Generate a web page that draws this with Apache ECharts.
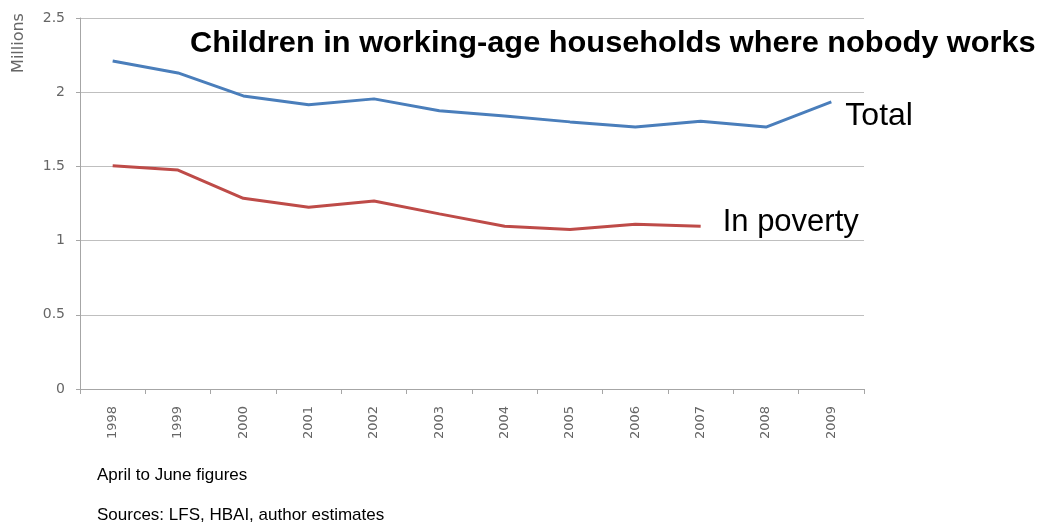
<!DOCTYPE html>
<html>
<head>
<meta charset="utf-8">
<script src="https://cdn.jsdelivr.net/npm/echarts@6/dist/echarts.min.js"></script>
<style>
  html, body { margin: 0; padding: 0; background: #fff; }
  #chart { width: 1041px; height: 525px; }
</style>
</head>
<body>
<div id="chart"></div>
<script>
const years = ['1998', '1999', '2000', '2001', '2002', '2003', '2004', '2005', '2006', '2007', '2008', '2009'];
const total = [2.21, 2.13, 1.975, 1.915, 1.955, 1.875, 1.84, 1.80, 1.765, 1.805, 1.765, 1.935];
const poverty = [1.505, 1.475, 1.285, 1.225, 1.267, 1.18, 1.097, 1.075, 1.11, 1.097, null, null];

const chart = echarts.init(document.getElementById('chart'));
chart.setOption({
  animation: false,
  grid: { left: 80, right: 177, top: 18, bottom: 136 },
  graphic: [
    { type: 'text', x: 190, y: 29, scaleX: 1.025, style: { text: 'Children in working-age households where nobody works', font: 'bold 30px "Liberation Sans", Arial, sans-serif', fill: '#000' } },
    { type: 'text', x: 19, y: 43, rotation: Math.PI / 2, style: { text: 'Millions', font: '16px "DejaVu Sans", sans-serif', fill: '#666', align: 'center', verticalAlign: 'middle' } },
    { type: 'text', left: 97, top: 467, style: { text: 'April to June figures', font: '17px "Liberation Sans", Arial, sans-serif', fill: '#000' } },
    { type: 'text', left: 97, top: 507, style: { text: 'Sources: LFS, HBAI, author estimates', font: '17px "Liberation Sans", Arial, sans-serif', fill: '#000' } }
  ],
  xAxis: {
    type: 'category',
    data: years,
    boundaryGap: true,
    axisLine: { lineStyle: { color: '#a6a6a6' } },
    axisTick: { show: true, length: 5, lineStyle: { color: '#a6a6a6' } },
    axisLabel: { rotate: 90, color: '#666', fontSize: 13, fontFamily: 'DejaVu Sans', margin: 17 }
  },
  yAxis: {
    type: 'value',
    min: 0, max: 2.5, interval: 0.5,
    axisLine: { show: true, lineStyle: { color: '#a6a6a6' } },
    axisTick: { show: true, length: 4, lineStyle: { color: '#a6a6a6' } },
    axisLabel: { color: '#666', fontSize: 14, fontFamily: 'DejaVu Sans', margin: 15 },
    splitLine: { lineStyle: { color: '#bfbfbf' } }
  },
  series: [
    {
      name: 'Total', type: 'line', data: total, symbol: 'none',
      lineStyle: { color: '#4a7ebb', width: 3 },
      endLabel: { show: true, formatter: 'Total', color: '#000', fontSize: 32, fontFamily: '"Liberation Sans", Arial, sans-serif', distance: 14, offset: [0, 14] }
    },
    {
      name: 'In poverty', type: 'line', data: poverty, symbol: 'none',
      lineStyle: { color: '#be4b48', width: 3 },
      endLabel: { show: true, formatter: 'In poverty', color: '#000', fontSize: 31, fontFamily: '"Liberation Sans", Arial, sans-serif', distance: 22, offset: [0, -4] }
    }
  ]
});
</script>
</body>
</html>
